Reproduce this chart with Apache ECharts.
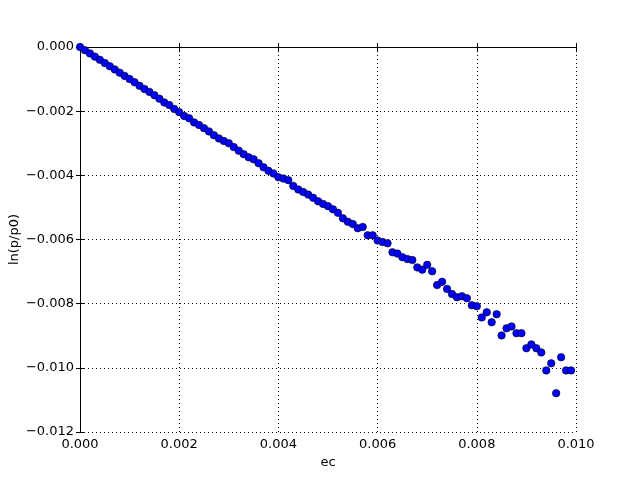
<!DOCTYPE html>
<html>
<head>
<meta charset="utf-8">
<script src="https://cdn.jsdelivr.net/npm/echarts@6/dist/echarts.min.js"></script>
<style>html,body{margin:0;padding:0;background:#fff;}#c{width:640px;height:480px;}</style>
</head>
<body>
<div id="c"></div>
<script>
// ec values (x)
var ecValues = [];
for (var k = 0; k < 100; k++) { ecValues.push(+(k * 0.0001).toFixed(4)); }
// ln(p/p0) values (y)
var lnValues = [
  0.00000, -0.00010, -0.00020, -0.00030, -0.00040, -0.00050, -0.00060, -0.00070, -0.00080, -0.00090,
  -0.00100, -0.00110, -0.00121, -0.00131, -0.00140, -0.00150, -0.00161, -0.00173, -0.00181, -0.00193,
  -0.00203, -0.00215, -0.00222, -0.00235, -0.00243, -0.00253, -0.00263, -0.00275, -0.00285, -0.00293,
  -0.00300, -0.00312, -0.00323, -0.00334, -0.00344, -0.00350, -0.00362, -0.00375, -0.00386, -0.00394,
  -0.00406, -0.00410, -0.00415, -0.00433, -0.00444, -0.00452, -0.00460, -0.00470, -0.00481, -0.00489,
  -0.00496, -0.00506, -0.00517, -0.00534, -0.00545, -0.00552, -0.00565, -0.00561, -0.00587, -0.00587,
  -0.00603, -0.00608, -0.00612, -0.00640, -0.00644, -0.00655, -0.00661, -0.00664, -0.00687, -0.00694,
  -0.00679, -0.00699, -0.00742, -0.00732, -0.00754, -0.00770, -0.00780, -0.00777, -0.00783, -0.00805,
  -0.00808, -0.00843, -0.00827, -0.00858, -0.00833, -0.00899, -0.00877, -0.00871, -0.00892, -0.00892,
  -0.00939, -0.00927, -0.00939, -0.00952, -0.01008, -0.00986, -0.01079, -0.00967, -0.01008, -0.01008
];
var xTicks = [0, 0.002, 0.004, 0.006, 0.008, 0.010];
var yTicks = [0, -0.002, -0.004, -0.006, -0.008, -0.010, -0.012];

var points = ecValues.map(function (x, i) { return [x, lnValues[i]]; });

var font = 'DejaVu Sans';
var fmt = function (v) { return v.toFixed(3).replace('-', '\u2212'); };
var tick = { show: true, inside: true, length: 4, lineStyle: { color: '#000', width: 1 } };
var axisLine = { show: true, lineStyle: { color: '#000', width: 1 } };
var grid = { show: true, lineStyle: { color: '#000', width: 1, type: [1, 3] } };

var chart = echarts.init(document.getElementById('c'), null, { renderer: 'canvas' });
chart.setOption({
  animation: false,
  backgroundColor: '#fff',
  grid: { left: 80, right: 64, top: 47, bottom: 48, containLabel: false, outerBoundsMode: 'none' },
  xAxis: [{
    type: 'value', min: 0, max: 0.01, interval: 0.002, position: 'bottom',
    name: 'ec', nameLocation: 'middle', nameGap: 24, nameMoveOverlap: false,
    nameTextStyle: { fontFamily: font, fontSize: 13, color: '#000' },
    axisLine: axisLine, axisTick: tick, splitLine: grid,
    axisLabel: { fontFamily: font, fontSize: 13, color: '#000', margin: 6, formatter: fmt, showMinLabel: true, showMaxLabel: true }
  }, {
    type: 'value', min: 0, max: 0.01, interval: 0.002, position: 'top',
    axisLine: axisLine, axisTick: tick, splitLine: { show: false }, axisLabel: { show: false }
  }],
  yAxis: [{
    type: 'value', min: -0.012, max: 0, interval: 0.002, position: 'left',
    name: 'ln(p/p0)', nameLocation: 'middle', nameGap: 59, nameRotate: 90, nameMoveOverlap: false,
    nameTextStyle: { fontFamily: font, fontSize: 13, color: '#000' },
    axisLine: axisLine, axisTick: tick, splitLine: grid,
    axisLabel: { fontFamily: font, fontSize: 13, color: '#000', margin: 6, formatter: fmt, showMinLabel: true, showMaxLabel: true }
  }, {
    type: 'value', min: -0.012, max: 0, interval: 0.002, position: 'right',
    axisLine: axisLine, axisTick: tick, splitLine: { show: false }, axisLabel: { show: false }
  }],
  series: [{
    type: 'scatter', xAxisIndex: 0, yAxisIndex: 0,
    data: points, symbol: 'circle', symbolSize: 7.5,
    itemStyle: { color: '#0000ff', borderColor: '#000', borderWidth: 0.6, opacity: 1 },
    clip: false
  }]
});
</script>
</body>
</html>
